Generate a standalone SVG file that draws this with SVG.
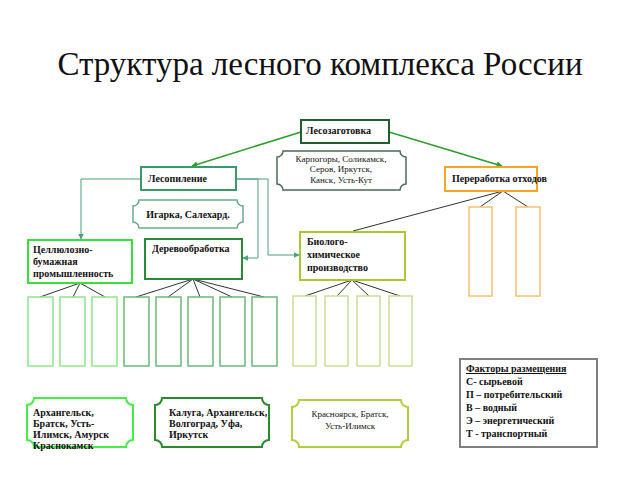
<svg xmlns="http://www.w3.org/2000/svg" width="640" height="480" viewBox="0 0 640 480">
<defs>
<marker id="ag" viewBox="0 0 10 10" refX="9" refY="5" markerWidth="6" markerHeight="6" orient="auto" markerUnits="userSpaceOnUse"><path d="M0,0 L10,5 L0,10 z" fill="#2a9f2a"/></marker>
<marker id="at" viewBox="0 0 10 10" refX="9" refY="5" markerWidth="6" markerHeight="6" orient="auto" markerUnits="userSpaceOnUse"><path d="M0,0 L10,5 L0,10 z" fill="#4aa07a"/></marker>
</defs>
<style>
.t{font-family:"Liberation Serif","DejaVu Serif",serif;fill:#111}
.b{font-weight:bold;font-size:10px}
.r{font-size:9px}
.box{fill:#fff}
.kid{fill:#fff;stroke-width:1.5}
.fan{stroke:#333;stroke-width:1;fill:none}
.lp{stroke:#4aa07a;stroke-width:1;fill:none}
.ga{stroke:#2a9f2a;stroke-width:1.5;fill:none}
</style>
<rect width="640" height="480" fill="#fff"/>
<text class="t" x="320" y="75" font-size="33" text-anchor="middle">Структура лесного комплекса России</text>

<g id="connectors">
<line class="ga" x1="301" y1="132" x2="192" y2="166" marker-end="url(#ag)"/>
<line class="ga" x1="389" y1="132" x2="502" y2="166" marker-end="url(#ag)"/>
<polyline class="lp" points="140,179 81,179 81,239" marker-end="url(#at)"/>
<polyline class="lp" points="236,179 258,179 258,258 243,258" marker-end="url(#at)"/>
<polyline class="lp" points="236,179 268,179 268,255 299,255" marker-end="url(#at)"/>
<line class="fan" x1="503" y1="191" x2="353" y2="231"/>
<line class="fan" x1="503" y1="191" x2="480" y2="207"/>
<line class="fan" x1="503" y1="191" x2="528" y2="207"/>
<line class="fan" x1="80" y1="283" x2="40" y2="297"/>
<line class="fan" x1="80" y1="283" x2="73" y2="297"/>
<line class="fan" x1="80" y1="283" x2="105" y2="297"/>
<line class="fan" x1="193" y1="279" x2="136" y2="297"/>
<line class="fan" x1="193" y1="279" x2="168" y2="297"/>
<line class="fan" x1="193" y1="279" x2="200" y2="297"/>
<line class="fan" x1="193" y1="279" x2="232" y2="297"/>
<line class="fan" x1="193" y1="279" x2="264" y2="297"/>
<line class="fan" x1="352" y1="280" x2="305" y2="296"/>
<line class="fan" x1="352" y1="280" x2="337" y2="296"/>
<line class="fan" x1="352" y1="280" x2="369" y2="296"/>
<line class="fan" x1="352" y1="280" x2="400" y2="296"/>
</g>

<g id="lesozagotovka">
<rect class="box" x="301" y="120" width="88" height="23" stroke="#1f5f2a" stroke-width="2"/>
<text class="t b" x="306" y="134">Лесозаготовка</text>
</g>
<g id="karpogory">
<path d="M283,151 H400 A6,6 0 0 0 406,157 V184 A6,6 0 0 0 400,190 H283 A6,6 0 0 0 277,184 V157 A6,6 0 0 0 283,151 Z" fill="#fff" stroke="#4a6a55" stroke-width="1.5"/>
<text class="t r" x="341" y="162" text-anchor="middle">Карпогоры, Соликамск,</text>
<text class="t r" x="341" y="172" text-anchor="middle">Серов, Иркутск,</text>
<text class="t r" x="341" y="183" text-anchor="middle">Канск, Усть-Кут</text>
</g>
<g id="lesopilenie">
<rect class="box" x="141" y="167" width="95" height="23" stroke="#3a9a6a" stroke-width="2"/>
<text class="t b" x="148" y="182">Лесопиление</text>
</g>
<g id="igarka">
<path d="M139,200 H237 A6,6 0 0 0 243,206 V222 A6,6 0 0 0 237,228 H139 A6,6 0 0 0 133,222 V206 A6,6 0 0 0 139,200 Z" fill="#fff" stroke="#6aaa8a" stroke-width="1.5"/>
<text class="t b" x="188" y="218" text-anchor="middle">Игарка, Салехард.</text>
</g>
<g id="pererabotka">
<rect class="box" x="445" y="167" width="92" height="24" stroke="#f5a623" stroke-width="2"/>
<text class="t b" x="452" y="182">Переработка отходов</text>
<rect class="kid" x="469" y="207" width="23" height="89" stroke="#f8c070"/>
<rect class="kid" x="516" y="207" width="24" height="89" stroke="#f8c070"/>
</g>
<g id="cellulose">
<rect class="box" x="28" y="240" width="104" height="43" stroke="#3ae03a" stroke-width="2"/>
<text class="t b" x="33" y="253">Целлюлозно-</text>
<text class="t b" x="33" y="265">бумажная</text>
<text class="t b" x="33" y="277">промышленность</text>
<rect class="kid" x="28" y="297" width="25" height="69" stroke="#8ae88a"/>
<rect class="kid" x="60" y="297" width="25" height="69" stroke="#8ae88a"/>
<rect class="kid" x="92" y="297" width="25" height="69" stroke="#8ae88a"/>
</g>
<g id="derevo">
<rect class="box" x="145" y="239" width="97" height="40" stroke="#2a8a3a" stroke-width="2"/>
<text class="t b" x="152" y="252">Деревообработка</text>
<rect class="kid" x="124" y="297" width="25" height="69" stroke="#6ab87a"/>
<rect class="kid" x="156" y="297" width="25" height="69" stroke="#6ab87a"/>
<rect class="kid" x="188" y="297" width="25" height="69" stroke="#6ab87a"/>
<rect class="kid" x="220" y="297" width="25" height="69" stroke="#6ab87a"/>
<rect class="kid" x="252" y="297" width="25" height="69" stroke="#6ab87a"/>
</g>
<g id="biolog">
<rect class="box" x="300" y="232" width="105" height="48" stroke="#a8c830" stroke-width="2"/>
<text class="t b" x="307" y="245">Биолого-</text>
<text class="t b" x="307" y="258">химическое</text>
<text class="t b" x="307" y="271">производство</text>
<rect class="kid" x="293" y="296" width="23" height="70" stroke="#c8e090"/>
<rect class="kid" x="325" y="296" width="23" height="70" stroke="#c8e090"/>
<rect class="kid" x="357" y="296" width="23" height="70" stroke="#c8e090"/>
<rect class="kid" x="389" y="296" width="23" height="70" stroke="#c8e090"/>
</g>
<g id="legend">
<rect class="box" x="460" y="359" width="137" height="88" stroke="#808080" stroke-width="2"/>
<text class="t b" x="466" y="372" text-decoration="underline">Факторы размещения</text>
<text class="t b" x="466" y="385">С- сырьевой</text>
<text class="t b" x="466" y="398">П – потребительский</text>
<text class="t b" x="466" y="411">В – водный</text>
<text class="t b" x="466" y="424">Э – энергетический</text>
<text class="t b" x="466" y="437">Т - транспортный</text>
</g>
<g id="city1">
<path d="M34,398 H126 A7,7 0 0 0 133,405 V440 A7,7 0 0 0 126,447 H34 A7,7 0 0 0 27,440 V405 A7,7 0 0 0 34,398 Z" fill="#fff" stroke="#44ee44" stroke-width="2"/>
<text class="t b" x="33" y="416" font-size="9">Архангельск,</text>
<text class="t b" x="33" y="427" font-size="9">Братск, Усть-</text>
<text class="t b" x="33" y="438" font-size="9">Илимск, Амурск</text>
<text class="t b" x="33" y="449" font-size="9">Краснокамск</text>
</g>
<g id="city2">
<path d="M162,398 H262 A7,7 0 0 0 269,405 V440 A7,7 0 0 0 262,447 H162 A7,7 0 0 0 155,440 V405 A7,7 0 0 0 162,398 Z" fill="#fff" stroke="#2a8a2a" stroke-width="2"/>
<text class="t b" x="169" y="416" font-size="9">Калуга, Архангельск,</text>
<text class="t b" x="169" y="427" font-size="9">Волгоград, Уфа,</text>
<text class="t b" x="169" y="438" font-size="9">Иркутск</text>
</g>
<g id="city3">
<path d="M299,400 H401 A7,7 0 0 0 408,407 V440 A7,7 0 0 0 401,447 H299 A7,7 0 0 0 292,440 V407 A7,7 0 0 0 299,400 Z" fill="#fff" stroke="#b0d040" stroke-width="2"/>
<text class="t r" x="350" y="417" text-anchor="middle">Красноярск, Братск,</text>
<text class="t r" x="350" y="429" text-anchor="middle">Усть-Илимск</text>
</g>
</svg>
